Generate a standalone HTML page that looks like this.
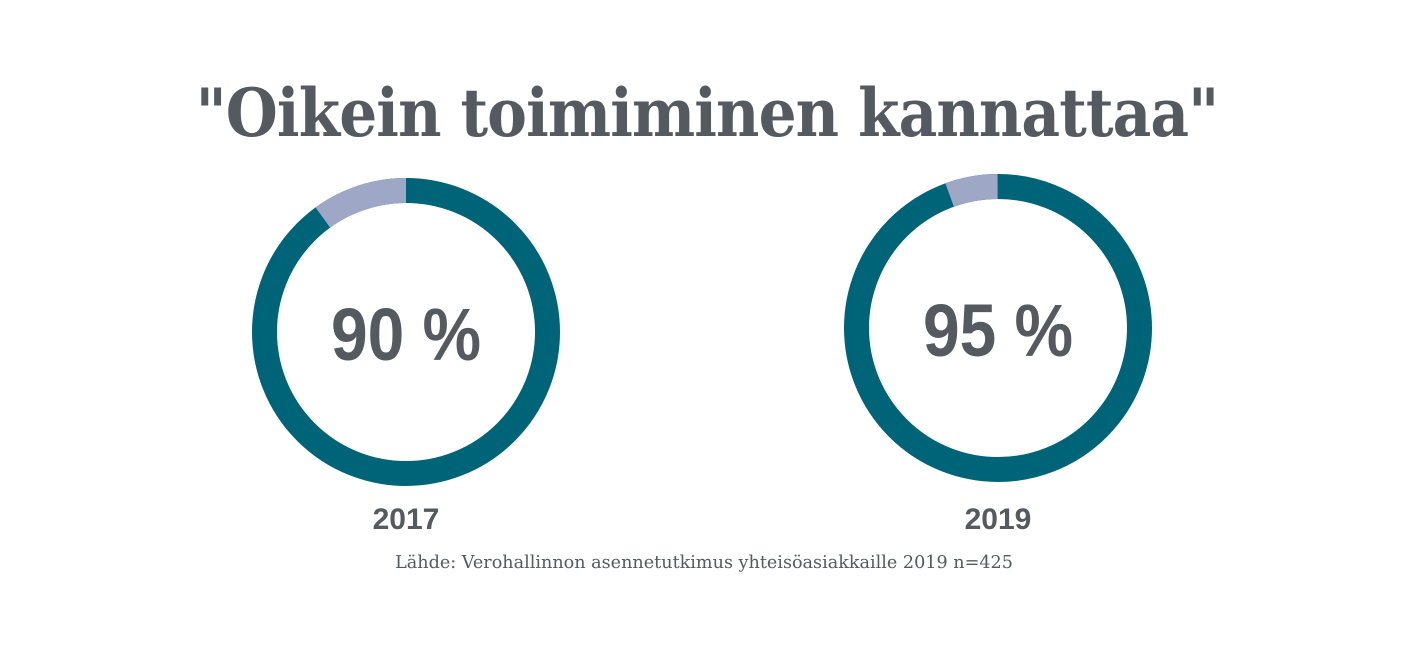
<!DOCTYPE html>
<html><head><style>
body{margin:0;background:#fff;width:1414px;height:646px;overflow:hidden;position:relative}
.t{position:absolute;left:0;width:1414px;text-align:center;color:#545a60}
</style></head><body>
<div class="t" style="top:74px;font:bold 66px 'DejaVu Serif',serif;letter-spacing:-1px;transform:scaleX(0.905)">"Oikein toimiminen kannattaa"</div>
<svg width="1414" height="646" style="position:absolute;left:0;top:0">
<g transform="translate(406,332) rotate(-90)">
<circle r="141.5" fill="none" stroke="#006478" stroke-width="25"/>
<circle r="141.5" fill="none" stroke="#9ea7c6" stroke-width="25" stroke-dasharray="88.9 1000" transform="rotate(-36)"/>
</g>
<g transform="translate(998,328) rotate(-90)">
<circle r="141.5" fill="none" stroke="#006478" stroke-width="25"/>
<circle r="141.5" fill="none" stroke="#9ea7c6" stroke-width="25" stroke-dasharray="49 1000" transform="rotate(-20)"/>
</g>
<g font-family="Liberation Sans, sans-serif" font-weight="bold" fill="#545a60" text-anchor="middle">
<text x="406" y="360" font-size="74" transform="translate(406 0) scale(0.89 1) translate(-406 0)">90 %</text>
<text x="998" y="356" font-size="74" transform="translate(998 0) scale(0.89 1) translate(-998 0)">95 %</text>
<text x="406" y="529" font-size="30">2017</text>
<text x="998" y="529" font-size="30">2019</text>
</g>
<text x="704" y="568" text-anchor="middle" font-family="DejaVu Serif, serif" font-size="17.6" fill="#545a60">Lähde: Verohallinnon asennetutkimus yhteisöasiakkaille 2019 n=425</text>
</svg>
</body></html>
